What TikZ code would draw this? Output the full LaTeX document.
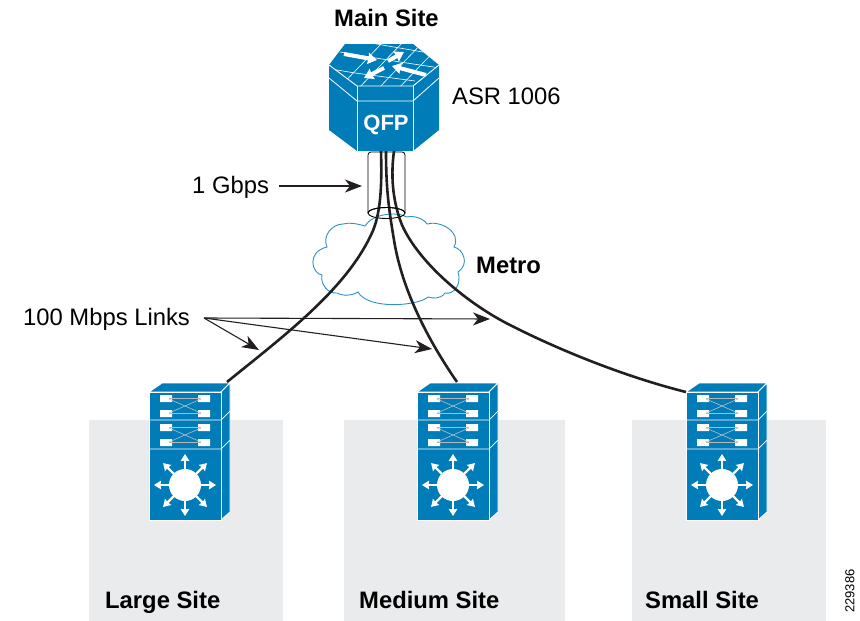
\documentclass[tikz,border=0pt]{standalone}
\usepackage{fontspec}
\setmainfont{Liberation Sans}
\usetikzlibrary{arrows.meta}
\definecolor{ciscoblue}{HTML}{007DB8}
\definecolor{sitegray}{HTML}{E9EBED}
\definecolor{inkdark}{HTML}{231F20}
\definecolor{cloudblue}{HTML}{2E92C8}
\tikzset{
  x=1pt,y=-1pt,
  lbl/.style={font=\fontsize{23.8}{26}\selectfont,text=black,inner sep=0pt,anchor=base west},
  blbl/.style={lbl,font=\fontsize{23.8}{26}\selectfont\bfseries},
  sitebox/.style={fill=sitegray,draw=none},
  bluebody/.style={fill=ciscoblue,draw=white,line width=0.9pt,line join=round},
  wline/.style={draw=white,line width=0.7pt},
  wire/.style={draw=inkdark,line width=2.6pt},
  pointer/.style={draw=inkdark,line width=1.1pt,-{Stealth[length=17pt,width=13pt,inset=5pt]}},
  warrow/.style={draw=white,line width=2.2pt,-{Stealth[length=7pt,width=8.5pt,inset=0.5pt]}},
  port/.style={fill=white,draw=none},
  switchband/.pic={
    \path[port] (11,3) rectangle (23,10) (11,18) rectangle (23,25) (49,3) rectangle (61,10) (49,18) rectangle (61,25);
    \draw[draw=black!28,line width=1.3pt] (20,6.5) -- (52,6.5) (20,21.5) -- (52,21.5);
    \draw[draw=white!75!black,line width=0.6pt] (20,7) -- (52,21) (20,21) -- (52,7);
  },
  stack/.pic={
    \path[bluebody] (0,0) -- (13,-9) -- (81,-9) -- (72,0) -- cycle;
    \path[bluebody] (72,0) -- (81,-9) -- (81,120) -- (72,128) -- cycle;
    \path[bluebody] (0,0) rectangle (72,128);
    \draw[wline] (0,28) -- (72,28) -- (81,19) (0,57) -- (72,57) -- (81,48);
    \pic at (0,0) {switchband};
    \pic at (0,29) {switchband};
    \fill[white] (36,93) circle (16);
    \foreach \a in {0,45,...,315}
      \draw[warrow] (36,93) ++(\a:15) -- ++(\a:16);
  }
}
\begin{document}
\begin{tikzpicture}
\useasboundingbox (0,0) rectangle (860,621);
% site panels
\path[sitebox] (89,420) rectangle (283,621);
\path[sitebox] (344,420) rectangle (565,621);
\path[sitebox] (632,420) rectangle (826,621);
% cloud
\draw[cloudblue,line width=0.9pt,fill=white]
  (365,226) .. controls (372,214) and (396,211) .. (407,217)
  .. controls (414,215) and (424,219) .. (427,224)
  .. controls (440,220) and (462,232) .. (454,247)
  .. controls (463,249) and (470,264) .. (458,272)
  .. controls (462,284) and (454,295) .. (445,293)
  .. controls (440,300) and (432,298) .. (428,297)
  .. controls (418,306) and (368,310) .. (358,292)
  .. controls (352,296) and (342,296) .. (337,293)
  .. controls (328,294) and (320,284) .. (322,275)
  .. controls (312,274) and (306,252) .. (327,247)
  .. controls (322,236) and (332,224) .. (343,224)
  .. controls (350,222) and (358,224) .. (365,226) -- cycle;
% cylinder back
\draw[black,line width=0.8pt,rounded corners=3pt] (368,213) -- (368,152) -- (405,152) -- (405,213);
\draw[black,line width=0.9pt] (386.5,213) ellipse (18.5 and 5.5);
% switches
\pic at (149,392) {stack};
\pic at (417,392) {stack};
\pic at (686,392) {stack};
\coordinate (lg) at (227,382);
\coordinate (md) at (457,382);
\coordinate (sm) at (686,392);
% main router
\path[fill=ciscoblue,draw=none] (329,65) -- (345,44) -- (413,44) -- (439,65) -- (439,130) -- (413,151) -- (357,151) -- (329,130) -- cycle;
\begin{scope}
  \clip (329,65) -- (345,44) -- (413,44) -- (439,65) -- (413,86) -- (357,86) -- cycle;
  \foreach \d in {0,20,...,140}
    \draw[wline,line width=0.6pt] (335+\d,92) -- (385+\d,40);
  \draw[wline,line width=0.6pt] (325,68) -- (355,73) -- (415,81);
  \draw[wline,line width=0.6pt] (340,52) -- (400,62) -- (440,68);
  \draw[wline,line width=0.6pt] (365,42) -- (440,55);
  \draw[white,line width=4pt,-{Stealth[length=9pt,width=11pt,inset=0.5pt]}] (344,54) -- (377,60);
  \draw[white,line width=4pt,-{Stealth[length=9pt,width=11pt,inset=0.5pt]}] (388,61) -- (404,52);
  \draw[white,line width=4pt,-{Stealth[length=9pt,width=11pt,inset=0.5pt]}] (384,68) -- (364,78);
  \draw[white,line width=4pt,-{Stealth[length=9pt,width=11pt,inset=0.5pt]}] (426,75) -- (392,66);
\end{scope}
\draw[white,line width=0.9pt,line join=round] (329,65) -- (357,86) -- (413,86) -- (439,65);
\draw[white,line width=0.9pt] (357,86) -- (357,151) (413,86) -- (413,151);
\draw[white,line width=0.8pt] (329,78) -- (357,101) -- (413,101) -- (439,78);
\node[font=\fontsize{22}{24}\selectfont\bfseries,text=white,inner sep=0pt] (qfp) at (386,125) {QFP};
\coordinate (hubA) at (381,151);
\coordinate (hubB) at (386,151);
\coordinate (hubC) at (394,151);
% wires
\draw[wire] (hubA) .. controls (382,185) and (381,215) .. (371,235) .. controls (345,290) and (285,335) .. (lg);
\draw[wire] (hubB) .. controls (386,190) and (389,210) .. (394,240) .. controls (402,290) and (428,340) .. (md);
\draw[wire] (hubC) .. controls (390,180) and (394,205) .. (402,225) .. controls (420,265) and (470,305) .. (510,325) .. controls (565,353) and (630,378) .. (sm);
% cylinder front edge over wires
\draw[black,line width=0.9pt] (368,213) arc[start angle=180,end angle=360,x radius=18.5,y radius=5.5];
% labels
\node[blbl] (mainsite) at (334,26) {Main Site};
\node[lbl] (asr) at (452,104) {ASR 1006};
\node[lbl] (gbps) at (192,193) {1 Gbps};
\node[blbl] (metro) at (476,273) {Metro};
\node[lbl] (mbps) at (23,325) {100 Mbps Links};
\node[blbl] (lsite) at (105,608) {Large Site};
\node[blbl] (msite) at (359,608) {Medium Site};
\node[blbl] (ssite) at (645,608) {Small Site};
\node[font=\fontsize{13}{15}\selectfont,rotate=90,inner sep=0pt] (num) at (850,591) {229386};
% pointers
\coordinate (gbpsend) at (362,186);
\coordinate (ptA) at (259,350);
\coordinate (ptB) at (432,349);
\coordinate (ptC) at (490,319);
\draw[pointer] (279,186) -- (gbpsend);
\coordinate (src) at (204,318);
\draw[pointer] (src) -- (ptA);
\draw[pointer] (src) -- (ptB);
\draw[pointer] (src) -- (ptC);
\end{tikzpicture}
\end{document}
